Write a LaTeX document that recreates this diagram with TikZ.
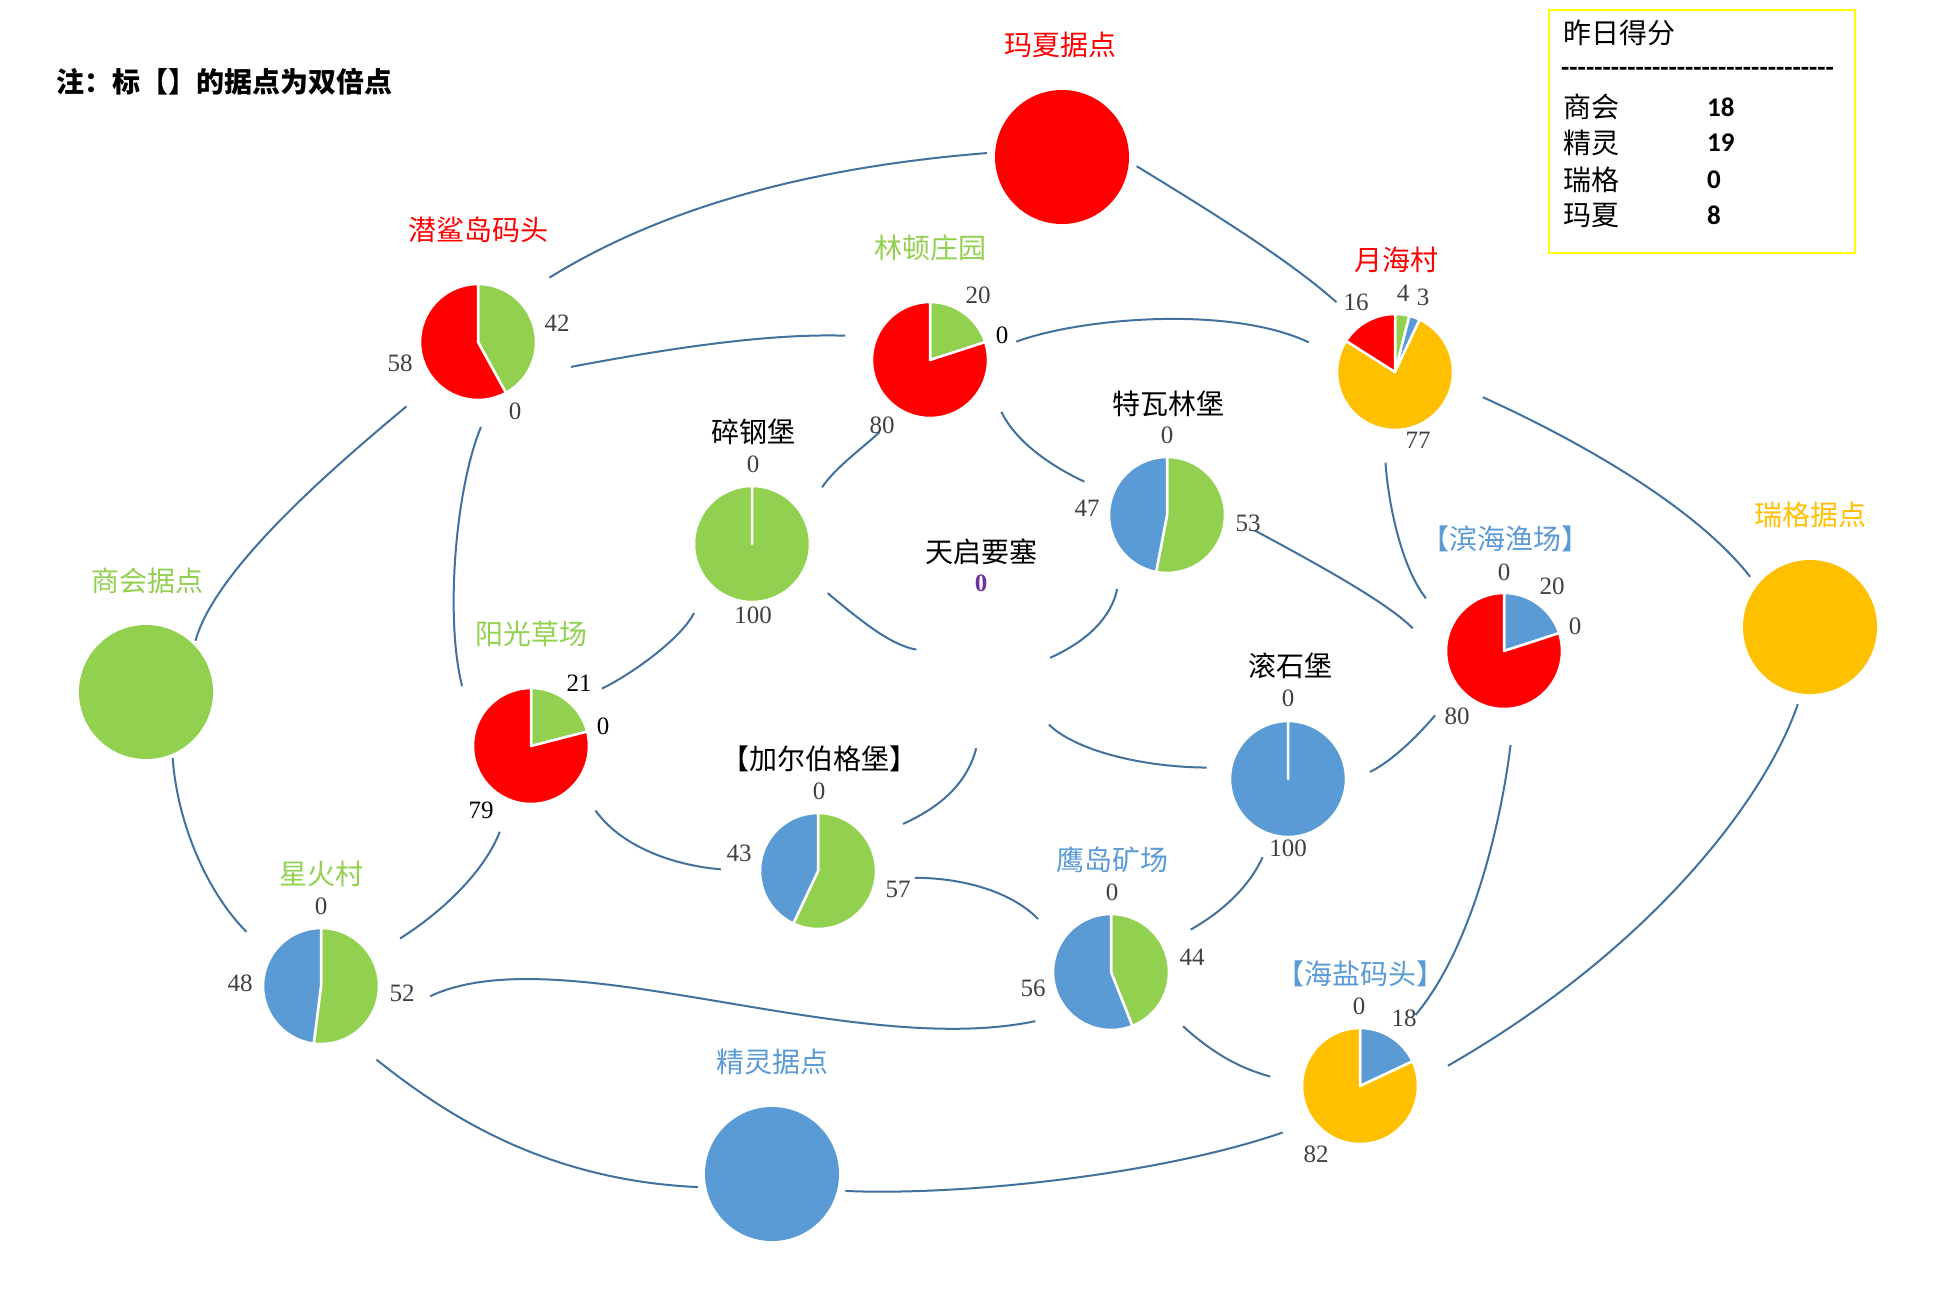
\documentclass[tikz,border=0pt]{standalone}
\usepackage{fontspec}
\newfontfamily\cjk{Noto Sans CJK SC}
\newfontfamily\numf{Liberation Serif}
\newfontfamily\scoref{Carlito}
\definecolor{cgreen}{HTML}{92D050}
\definecolor{cblue}{HTML}{5B9BD5}
\definecolor{cyellow}{HTML}{FFC000}
\definecolor{cred}{HTML}{FF0000}
\definecolor{cpurple}{HTML}{7030A0}
\definecolor{clink}{HTML}{41719C}
\definecolor{cnum}{HTML}{404040}
\definecolor{cbox}{HTML}{FFFF00}
\newcommand\slc[5]{\fill[#5, draw=white, line width=2.5pt, line join=round] (#1,#2) -- ++(#3:58pt) arc[start angle=#3, end angle=#4, radius=58pt] -- cycle;}
\def\hy{-\kern0pt}
\begin{document}
\begin{tikzpicture}[x=1pt,y=-1pt,
  lbl/.style={font=\cjk\fontsize{28}{30}\selectfont, inner sep=0pt},
  num/.style={font=\numf\fontsize{25}{27}\selectfont, text=cnum, inner sep=0pt},
  hub/.style={circle, draw=none, inner sep=0pt, minimum size=#1},
  link/.style={draw=clink, line width=2pt}
]
\useasboundingbox[fill=white] (0,0) rectangle (1942,1294);

% ---------- note ----------
\node[lbl, font=\cjk\bfseries\fontsize{28}{30}\selectfont, anchor=west] (note) at (56,82) {注：标【】的据点为双倍点};

% ---------- score box ----------
\draw[cbox, line width=2.5pt] (1549,10) rectangle (1855,253);
\node[lbl, anchor=west] (st) at (1563,33) {昨日得分};
\node[anchor=west, inner sep=0pt, font=\scoref\bfseries\fontsize{27}{30}\selectfont] (sd) at (1561,72) {\hy\hy\hy\hy\hy\hy\hy\hy\hy\hy\hy\hy\hy\hy\hy\hy\hy\hy\hy\hy\hy\hy\hy\hy\hy\hy\hy\hy\hy\hy\hy\hy\hy};
\node[lbl, anchor=west] (s1) at (1563,107) {商会};
\node[lbl, anchor=west] (s2) at (1563,143) {精灵};
\node[lbl, anchor=west] (s3) at (1563,180) {瑞格};
\node[lbl, anchor=west] (s4) at (1563,215) {玛夏};
\begin{scope}[every node/.style={anchor=west, inner sep=0pt, font=\scoref\bfseries\fontsize{27}{30}\selectfont}]
\node (v1) at (1707,107) {18};
\node (v2) at (1707,143) {19};
\node (v3) at (1707,180) {0};
\node (v4) at (1707,215) {8};
\end{scope}

% ---------- big circles ----------
\fill[cred] (1062,157) circle[radius=67pt];
\fill[cgreen] (146,692) circle[radius=67pt];
\fill[cyellow] (1810,627) circle[radius=67pt];
\fill[cblue] (772,1174) circle[radius=67pt];

% ---------- pies ----------
\slc{478}{342}{90}{-61.2}{cgreen}\slc{478}{342}{-61.2}{-270}{cred}
\slc{930}{360}{90}{18}{cgreen}\slc{930}{360}{18}{-270}{cred}
\slc{1395}{372}{90}{75.6}{cgreen}\slc{1395}{372}{75.6}{64.8}{cblue}\slc{1395}{372}{64.8}{-212.4}{cyellow}\slc{1395}{372}{-212.4}{-270}{cred}
\slc{1167}{515}{90}{-100.8}{cgreen}\slc{1167}{515}{-100.8}{-270}{cblue}
\slc{752}{544}{90}{-270}{cgreen}
\slc{1288}{779}{90}{-270}{cblue}
\slc{1504}{651}{90}{18}{cblue}\slc{1504}{651}{18}{-270}{cred}
\slc{531}{746}{90}{14.4}{cgreen}\slc{531}{746}{14.4}{-270}{cred}
\slc{818}{871}{90}{-115.2}{cgreen}\slc{818}{871}{-115.2}{-270}{cblue}
\slc{1111}{972}{90}{-68.4}{cgreen}\slc{1111}{972}{-68.4}{-270}{cblue}
\slc{1360}{1086}{90}{25.2}{cblue}\slc{1360}{1086}{25.2}{-270}{cyellow}
\slc{321}{986}{90}{-97.2}{cgreen}\slc{321}{986}{-97.2}{-270}{cblue}

% ---------- hub nodes (named) ----------
\node[hub=150pt] (md) at (1062,157) {};
\node[hub=142pt] (sh) at (146,692) {};
\node[hub=156pt] (rg) at (1810,627) {};
\node[hub=150pt] (jl) at (772,1174) {};
\node[hub=192pt] (qs) at (478,342) {};
\node[hub=176pt] (ld) at (930,360) {};
\node[hub=182pt] (yh) at (1395,372) {};
\node[hub=178pt] (tw) at (1167,515) {};
\node[hub=180pt] (sg) at (752,544) {};
\node[hub=152pt] (tq) at (981,690) {};
\node[hub=164pt] (gs) at (1288,779) {};
\node[hub=188pt] (bh) at (1504,651) {};
\node[hub=182pt] (yg) at (531,746) {};
\node[hub=194pt] (je) at (818,871) {};
\node[hub=180pt] (yd) at (1111,972) {};
\node[hub=180pt] (hy) at (1360,1086) {};
\node[hub=184pt] (xh) at (321,986) {};

% ---------- connectors ----------
\draw[link] (qs.42) .. controls (678,198) and (837,165) .. (md.177);
\draw[link] (md.-7) .. controls (1195,202) and (1286,257) .. (yh.130);
\draw[link] (qs.-15) .. controls (650,352) and (760,333) .. (ld.164);
\draw[link] (ld.12) .. controls (1080,318) and (1230,305) .. (yh.161);
\draw[link] (qs.-138) .. controls (330,470) and (215,570) .. (sh.46);
\draw[link, shorten <=-12pt] (qs.-91) .. controls (455,490) and (445,620) .. (yg.139);
\draw[link] (ld.-125) .. controls (860,450) and (835,468) .. (sg.39);
\draw[link] (ld.-36) .. controls (1017,444) and (1055,468) .. (tw.158);
\draw[link] (yh.-96) .. controls (1388,500) and (1400,565) .. (bh.146);
\draw[link] (yh.-16) .. controls (1560,432) and (1690,500) .. (rg.140);
\draw[link] (tw.-10) .. controls (1300,555) and (1385,600) .. (bh.166);
\draw[link] (sg.-130) .. controls (680,640) and (630,675) .. (yg.39);
\draw[link] (sg.-33) .. controls (860,620) and (890,645) .. (tq.148);
\draw[link] (tw.-124) .. controls (1112,615) and (1090,640) .. (tq.25);
\draw[link] (gs.172) .. controls (1140,767) and (1075,750) .. (tq.-27);
\draw[link, shorten >=-18pt] (je.29) .. controls (945,805) and (968,780) .. (tq.-97);
\draw[link] (yg.-45) .. controls (620,845) and (670,865) .. (je.179);
\draw[link] (yg.-110) .. controls (485,870) and (445,910) .. (xh.31);
\draw[link] (sh.-68) .. controls (177,820) and (205,890) .. (xh.144);
\draw[link, shorten <=21pt] (xh.-12) .. controls (560,935) and (850,1060) .. (yd.-147);
\draw[link] (xh.-53) .. controls (440,1110) and (540,1180) .. (jl.-170);
\draw[link] (jl.-13) .. controls (960,1196) and (1160,1175) .. (hy.-149);
\draw[link] (je.-4) .. controls (970,878) and (1015,895) .. (yd.144);
\draw[link] (yd.28) .. controls (1225,910) and (1250,885) .. (gs.-108);
\draw[link] (yd.-37) .. controls (1215,1055) and (1240,1068) .. (hy.174);
\draw[link] (gs.5) .. controls (1385,765) and (1410,745) .. (bh.-137);
\draw[link] (bh.-86) .. controls (1500,830) and (1470,950) .. (hy.52);
\draw[link] (rg.-99) .. controls (1765,800) and (1650,950) .. (hy.13);

% ---------- labels ----------
\node[lbl, text=cred] (tmd) at (1060,45) {玛夏据点};
\node[lbl, text=cred] (tqs) at (478,230) {潜鲨岛码头};
\node[lbl, text=cgreen] (tld) at (930,248) {林顿庄园};
\node[lbl, text=cred] (tyh) at (1396,260) {月海村};
\node[lbl] (ttw) at (1168,404) {特瓦林堡};
\node[lbl] (tsg) at (753,432) {碎钢堡};
\node[lbl] (ttq) at (981,552) {天启要塞};
\node[lbl] (tgs) at (1290,666) {滚石堡};
\node[lbl] (tje) at (819,759) {【加尔伯格堡】};
\node[lbl, text=cblue] (tyd) at (1112,860) {鹰岛矿场};
\node[lbl, text=cblue] (thy) at (1360,974) {【海盐码头】};
\node[lbl, text=cblue] (tbh) at (1505,539) {【滨海渔场】};
\node[lbl, text=cyellow] (trg) at (1810,515) {瑞格据点};
\node[lbl, text=cblue] (tjl) at (772,1062) {精灵据点};
\node[lbl, text=cgreen] (tsh) at (147,581) {商会据点};
\node[lbl, text=cgreen] (tyg) at (531,634) {阳光草场};
\node[lbl, text=cgreen] (txh) at (321,874) {星火村};

% ---------- numbers ----------
\node[num] (n1) at (557,323) {42};
\node[num] (n2) at (400,363) {58};
\node[num] (n3) at (515,411) {0};
\node[num] (n4) at (978,295) {20};
\node[num, text=black] (n5) at (1002,335) {0};
\node[num] (n6) at (882,425) {80};
\node[num] (n7) at (1356,302) {16};
\node[num] (n8) at (1403,293) {4};
\node[num] (n9) at (1423,297) {3};
\node[num] (n10) at (1418,440) {77};
\node[num] (n11) at (1167,435) {0};
\node[num] (n12) at (1087,508) {47};
\node[num] (n13) at (1248,523) {53};
\node[num] (n14) at (753,464) {0};
\node[num] (n15) at (753,615) {100};
\node[num, text=cpurple, font=\numf\bfseries\fontsize{25}{27}\selectfont] (n16) at (981,583) {0};
\node[num] (n17) at (1288,698) {0};
\node[num] (n18) at (1288,848) {100};
\node[num] (n19) at (819,791) {0};
\node[num] (n20) at (739,853) {43};
\node[num] (n21) at (898,889) {57};
\node[num] (n22) at (1112,892) {0};
\node[num] (n23) at (1192,957) {44};
\node[num] (n24) at (1033,988) {56};
\node[num] (n25) at (1359,1006) {0};
\node[num] (n26) at (1404,1018) {18};
\node[num] (n27) at (1316,1154) {82};
\node[num] (n28) at (1504,572) {0};
\node[num] (n29) at (1552,586) {20};
\node[num] (n30) at (1575,626) {0};
\node[num] (n31) at (1457,716) {80};
\node[num, text=black] (n32) at (579,683) {21};
\node[num, text=black] (n33) at (603,726) {0};
\node[num, text=black] (n34) at (481,810) {79};
\node[num] (n35) at (321,906) {0};
\node[num] (n36) at (240,983) {48};
\node[num] (n37) at (402,993) {52};
\end{tikzpicture}
\end{document}
